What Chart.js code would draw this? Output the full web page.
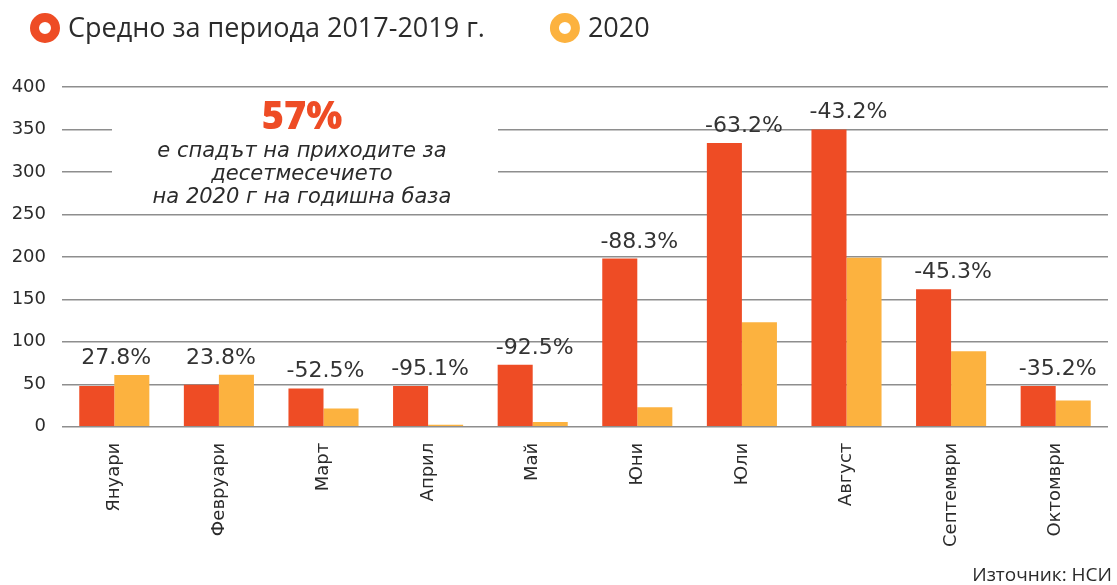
<!DOCTYPE html>
<html lang="bg">
<head>
<meta charset="utf-8">
<title>Приходи по месеци</title>
<script src="https://cdn.jsdelivr.net/npm/chart.js@4.4.1/dist/chart.umd.min.js"></script>
<style>
  html, body { margin: 0; padding: 0; background: #fff; }
  #wrap { width: 1117px; height: 585px; position: relative; }
</style>
</head>
<body>
<div id="wrap"><canvas id="revenueChart"></canvas></div>
<script>
/* ================== DATA ================== */
const months = ["Януари", "Февруари", "Март", "Април", "Май", "Юни", "Юли", "Август", "Септември", "Октомври"];
const avg2017to2019 = [48, 49.5, 45, 48, 73, 198, 334, 350, 162, 48];
const values2020 = [61, 61.3, 21.4, 2.4, 5.5, 23, 123, 199, 89, 31];
const changeLabels = ["27.8%", "23.8%", "-52.5%", "-95.1%", "-92.5%", "-88.3%", "-63.2%", "-43.2%", "-45.3%", "-35.2%"];
const seriesNames = ["Средно за периода 2017-2019 г.", "2020"];
const noteHeadline = "57%";
const noteLines = ["е спадът на приходите за", "десетмесечието", "на 2020 г на годишна база"];
const sourceText = "Източник: НСИ";

const RED = "#ee4c25";
const YELLOW = "#fcb23f";
const TEXT = "#2b2b2b";

/* ================== PLUGINS ================== */
// legend with ring markers, drawn at the top left
const ringLegend = {
  id: "ringLegend",
  afterDraw(chart) {
    const ctx = chart.ctx;
    const y = 28;
    let x = 45;
    ctx.save();
    ctx.font = "27px 'Open Sans'";
    ctx.textBaseline = "middle";
    chart.data.datasets.forEach((ds, i) => {
      ctx.beginPath();
      ctx.arc(x, y, 10.5, 0, Math.PI * 2);
      ctx.lineWidth = 9;
      ctx.strokeStyle = ds.backgroundColor;
      ctx.stroke();
      ctx.fillStyle = TEXT;
      ctx.textAlign = "left";
      ctx.fillText(ds.label, x + 23, y + 1);
      x += 23 + ctx.measureText(ds.label).width + 80;
    });
    ctx.restore();
  }
};

// white box behind the note, breaks the grid lines
const noteBox = {
  id: "noteBox",
  beforeDatasetsDraw(chart) {
    const ctx = chart.ctx;
    ctx.save();
    ctx.fillStyle = "#fff";
    ctx.fillRect(112, 100, 386, 105);
    ctx.restore();
  },
  afterDraw(chart) {
    const ctx = chart.ctx;
    const cx = 302;
    ctx.save();
    ctx.textAlign = "center";
    ctx.textBaseline = "alphabetic";
    ctx.fillStyle = RED;
    ctx.font = "800 38px 'Open Sans'";
    ctx.fillText(noteHeadline, cx, 129);
    ctx.fillStyle = TEXT;
    ctx.font = "italic 21px 'DejaVu Sans'";
    noteLines.forEach((line, i) => ctx.fillText(line, cx, 157 + i * 23));
    // source
    ctx.textAlign = "right";
    ctx.font = "19px 'Open Sans'";
    ctx.fillText(sourceText, 1112, 581);
    ctx.restore();
  }
};

// change labels over each month
const changeText = {
  id: "changeText",
  afterDatasetsDraw(chart) {
    const ctx = chart.ctx;
    const xs = chart.scales.x;
    const ys = chart.scales.y;
    ctx.save();
    ctx.font = "22px 'DejaVu Sans'";
    ctx.fillStyle = "#333";
    ctx.textAlign = "center";
    ctx.textBaseline = "alphabetic";
    changeLabels.forEach((txt, i) => {
      const top = Math.max(avg2017to2019[i], values2020[i]);
      ctx.fillText(txt, xs.getPixelForValue(i) + 2, ys.getPixelForValue(top) - 11);
    });
    ctx.restore();
  }
};

/* ================== CHART ================== */
new Chart(document.getElementById("revenueChart"), {
  type: "bar",
  data: {
    labels: months,
    datasets: [
      { label: seriesNames[0], data: avg2017to2019, backgroundColor: RED },
      { label: seriesNames[1], data: values2020, backgroundColor: YELLOW }
    ]
  },
  options: {
    responsive: true,
    maintainAspectRatio: false,
    animation: false,
    datasets: {
      bar: { categoryPercentage: 0.67, barPercentage: 1.0, borderWidth: 0 }
    },
    layout: { padding: { top: 87, left: 12, right: 9, bottom: 30 } },
    plugins: {
      legend: { display: false },
      tooltip: { enabled: false }
    },
    scales: {
      x: {
        grid: { display: false },
        border: { display: false },
        ticks: {
          autoSkip: false,
          minRotation: 90,
          maxRotation: 90,
          padding: 8,
          color: TEXT,
          font: { family: "'DejaVu Sans'", size: 18 }
        }
      },
      y: {
        min: 0,
        max: 400,
        border: { display: false },
        grid: { color: "#8e8e8e", lineWidth: 1.5, drawTicks: false },
        afterFit(scale) { scale.width = 50; },
        ticks: {
          stepSize: 50,
          padding: 16,
          color: TEXT,
          font: { family: "'DejaVu Sans'", size: 18 }
        }
      }
    }
  },
  plugins: [ringLegend, noteBox, changeText]
});
</script>
</body>
</html>
